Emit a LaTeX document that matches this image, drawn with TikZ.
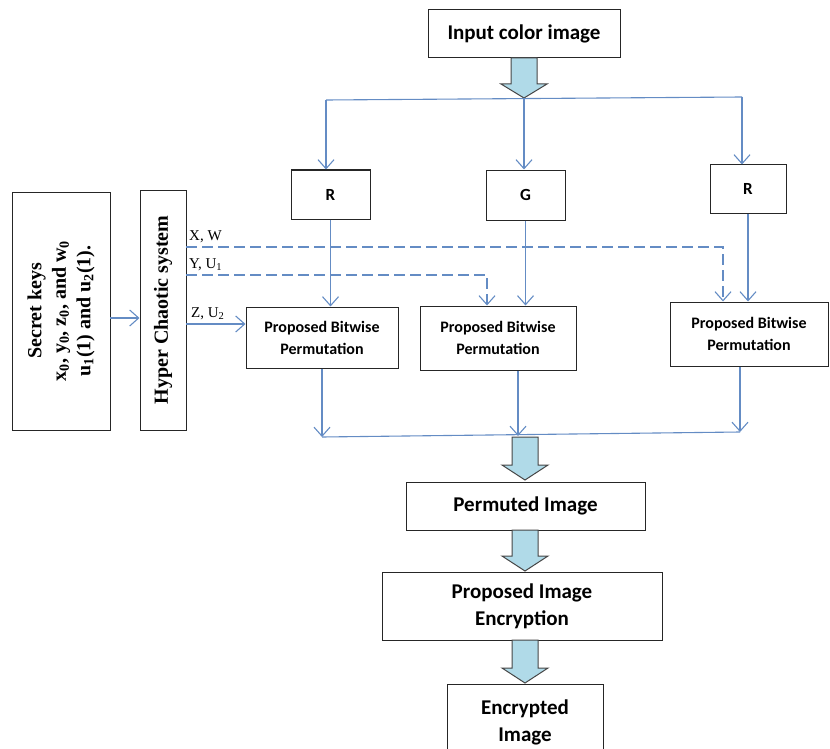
\documentclass[tikz,border=0pt]{standalone}
\usepackage{fontspec}
\setmainfont{Liberation Serif}
\newfontfamily\calib{Carlito}
\usetikzlibrary{arrows.meta,calc}
\definecolor{lineblue}{RGB}{100,140,196}
\definecolor{arrfill}{RGB}{176,218,232}
\definecolor{arrdraw}{RGB}{70,70,70}
\newcommand\blkarr[4]{%
  \draw[blockarrow] (#1-13,#2) -- (#1+13,#2) -- (#1+13,#3) -- (#1+23,#3) -- (#1,#4) -- (#1-23,#3) -- (#1-13,#3) -- cycle;}
\begin{document}
\begin{tikzpicture}[x=1pt,y=-1pt,
  box/.style={draw=black!85,line width=1pt,fill=white,inner sep=2pt,align=center,
    font=\calib\bfseries\fontsize{21}{27}\selectfont},
  smallbox/.style={box,font=\calib\bfseries\fontsize{16}{22}\selectfont},
  rgbbox/.style={box,font=\calib\bfseries\fontsize{17}{20}\selectfont},
  rotbox/.style={draw=black!85,line width=1pt,fill=white,inner sep=2pt,align=center,rotate=90,
    font=\bfseries\fontsize{20}{24.5}\selectfont},
  conn/.style={draw=lineblue,line width=1.1pt,-{Straight Barb[length=9pt,width=16pt,line width=1.1pt]}},
  plainline/.style={draw=lineblue,line width=1.1pt},
  dashconn/.style={conn,dash pattern=on 11pt off 5pt},
  lbl/.style={font=\fontsize{15}{18}\selectfont,inner sep=1pt,anchor=south west},
  blockarrow/.style={draw=arrdraw,line width=1pt,fill=arrfill,line join=miter}
]
\useasboundingbox (0,0) rectangle (830,749);

% nodes
\node[box,minimum width=192pt,minimum height=48pt] (inp) at (524,34) {Input color image};
\node[rgbbox,minimum width=79pt,minimum height=49pt] (R1) at (330.5,194.5) {R};
\node[rgbbox,minimum width=79pt,minimum height=50pt] (G) at (525.5,195) {G};
\node[rgbbox,minimum width=76pt,minimum height=48pt] (R3) at (748,189) {R};
\node[smallbox,minimum width=152pt,minimum height=61pt] (P1) at (322,337.5) {Proposed Bitwise\\Permutation};
\node[smallbox,minimum width=156pt,minimum height=64pt] (P2) at (498,338) {Proposed Bitwise\\Permutation};
\node[smallbox,minimum width=158pt,minimum height=64pt] (P3) at (749,334) {Proposed Bitwise\\Permutation};
\node[rotbox,minimum width=238pt,minimum height=98pt] (sk) at (61,311)
  {Secret keys\\x\textsubscript{0}, y\textsubscript{0}, z\textsubscript{0}, and w\textsubscript{0}\\u\textsubscript{1}(1) and u\textsubscript{2}(1).};
\node[rotbox,minimum width=240pt,minimum height=46pt] (hc) at (163,310) {Hyper Chaotic system};
\node[box,minimum width=239pt,minimum height=48pt] (perm) at (525.5,506) {Permuted Image};
\node[box,minimum width=280pt,minimum height=68pt] (enc) at (522,606) {Proposed Image\\Encryption};
\node[box,minimum width=156pt,minimum height=76pt] (encd) at (525,722) {Encrypted\\Image};

% block arrows
\blkarr{524}{58}{84}{98}
\blkarr{525}{437}{465}{480}
\blkarr{525}{530}{556}{571}
\blkarr{525}{640}{668}{683}

% top distribution
\coordinate (tl) at (326,100);
\coordinate (tm) at (524,99);
\coordinate (tr) at (742,97);
\draw[plainline] (tl) -- (tr);
\draw[conn] (tl) -- (tl |- R1.north);
\draw[conn] (tm) -- (tm |- G.north);
\draw[conn] (tr) -- (tr |- R3.north);

% R,G,R to permutation boxes
\draw[conn] (R1.south) -- (R1.south |- P1.north);
\draw[conn] (G.south) -- (G.south |- P2.north);
\draw[conn] (R3.south) -- (R3.south |- P3.north);

% secret keys to hyper chaotic
\coordinate (s1) at (110,318);
\draw[conn] (s1) -- (hc.north |- s1);

% chaotic outputs
\coordinate (xw) at (186,247);
\coordinate (xwc) at (723,247);
\draw[dashconn] (xw) -- (xwc) -- (xwc |- P3.north);
\node[lbl] (lxw) at (188,244) {X, W};
\coordinate (yu) at (186,275);
\coordinate (yuc) at (487,275);
\draw[dashconn] (yu) -- (yuc) -- (yuc |- P2.north);
\node[lbl] (lyu) at (188,272) {Y, U\textsubscript{1}};
\coordinate (zu) at (186,324);
\draw[conn] (zu) -- (P1.west |- zu);
\node[lbl] (lzu) at (190,321) {Z, U\textsubscript{2}};

% collection
\coordinate (b1) at (322,437);
\coordinate (b2) at (518,436);
\coordinate (b3) at (740,432);
\draw[plainline] (b1) -- (b3);
\draw[conn] (P1.south) -- (b1);
\draw[conn] (b2 |- P2.south) -- (b2);
\draw[conn] (b3 |- P3.south) -- (b3);
\end{tikzpicture}
\end{document}
